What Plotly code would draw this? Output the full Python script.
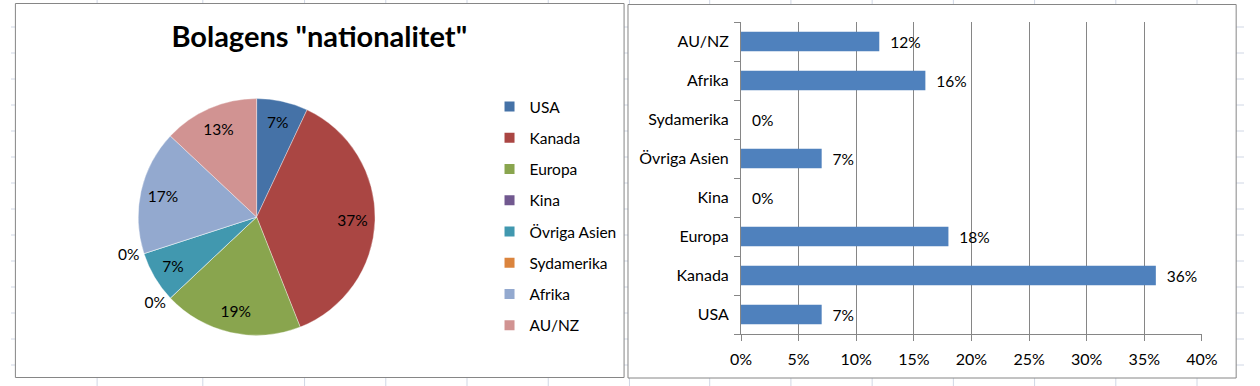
import plotly.graph_objects as go

# ---- data ----
pie_labels = ["USA", "Kanada", "Europa", "Kina", "Övriga Asien", "Sydamerika", "Afrika", "AU/NZ"]
pie_values = [7, 37, 19, 0, 7, 0, 17, 13]
pie_colors = ["#4572a7", "#aa4643", "#89a54e", "#71588f", "#4198af", "#db843d", "#93a9cf", "#d19392"]

bar_categories = ["USA", "Kanada", "Europa", "Kina", "Övriga Asien", "Sydamerika", "Afrika", "AU/NZ"]
bar_values = [0.07, 0.36, 0.18, 0.00, 0.07, 0.00, 0.16, 0.12]

title_text = 'Bolagens "nationalitet"'

W, H = 1260, 386
FONT = "Lato"
FS = 15.5
TICK_FS = 16
GRAY = "#868686"


def px(x):
    return x / W


def py(y):
    return 1 - y / H


pie_domain = dict(x=[px(130), px(372)], y=[py(338), py(96)])

fig = go.Figure()

# filled pie slices
fig.add_trace(go.Pie(
    labels=pie_labels,
    values=pie_values,
    sort=False,
    direction="clockwise",
    rotation=0,
    marker=dict(colors=pie_colors, line=dict(color="rgba(255,255,255,0.6)", width=0.6)),
    textinfo="none",
    domain=pie_domain,
    showlegend=False,
    hoverinfo="label+percent",
))

# transparent ring carrying the percentage labels (places them near the rim)
fig.add_trace(go.Pie(
    labels=pie_labels,
    values=pie_values,
    sort=False,
    direction="clockwise",
    rotation=0,
    hole=0.62,
    marker=dict(colors=["rgba(0,0,0,0)"] * len(pie_labels), line=dict(width=0)),
    texttemplate="%{percent:.0%}",
    textposition=["inside" if v > 0 else "outside" for v in pie_values],
    insidetextorientation="horizontal",
    textfont=dict(family=FONT, size=FS, color="black"),
    domain=pie_domain,
    showlegend=False,
    hoverinfo="skip",
))

# legend entries for the pie categories
for lab, col in zip(pie_labels, pie_colors):
    fig.add_trace(go.Scatter(
        x=[None], y=[None], mode="markers",
        marker=dict(symbol="square", size=10, color=col),
        name=lab, legendgroup=lab, showlegend=True,
        xaxis="x", yaxis="y",
    ))

fig.add_trace(go.Bar(
    x=bar_values,
    y=bar_categories,
    orientation="h",
    marker=dict(color="#4f81bd", line=dict(width=0)),
    texttemplate="\u00a0\u00a0%{x:.0%}",
    textposition="outside",
    textfont=dict(family=FONT, size=FS, color="black"),
    cliponaxis=False,
    showlegend=False,
))

# background spreadsheet grid + chart boxes
shapes = []
col_edges = [88, 196, 300, 383, 466, 549, 632, 714, 797, 880, 963, 1046, 1129, 1212]
for cx in col_edges:
    shapes.append(dict(type="line", xref="paper", yref="paper", x0=px(cx), x1=px(cx), y0=0, y1=1,
                       line=dict(color="#d0d7e5", width=1), layer="below"))
for k in range(1, 15):
    ry = 1 + 26 * k
    shapes.append(dict(type="line", xref="paper", yref="paper", x0=0, x1=1, y0=py(ry), y1=py(ry),
                       line=dict(color="#d0d7e5", width=1), layer="below"))
shapes.append(dict(type="rect", xref="paper", yref="paper", x0=px(4.5), x1=px(626.5), y0=py(377.5), y1=py(3.5),
                   line=dict(color=GRAY, width=1), fillcolor="white", layer="below"))
shapes.append(dict(type="rect", xref="paper", yref="paper", x0=px(630.5), x1=px(1252), y0=py(378), y1=py(4.5),
                   line=dict(color=GRAY, width=1), fillcolor="white", layer="below"))

fig.update_layout(
    width=W, height=H,
    margin=dict(l=0, r=0, t=0, b=0),
    paper_bgcolor="white",
    plot_bgcolor="rgba(0,0,0,0)",
    font=dict(family=FONT, size=FS, color="black"),
    title=dict(text=title_text, x=px(315), y=py(37), xref="paper", yref="paper",
               xanchor="center", yanchor="middle",
               font=dict(family=FONT, size=29, color="black", weight="bold")),
    shapes=shapes,
    bargap=0.5,
    showlegend=True,
    legend=dict(x=px(489), y=py(90), xanchor="left", yanchor="top",
                font=dict(family=FONT, size=FS, color="black"),
                traceorder="grouped", tracegroupgap=8.1,
                bgcolor="rgba(0,0,0,0)", borderwidth=0),
    xaxis=dict(domain=[px(746), px(1217)], range=[0, 0.4], dtick=0.05, tickformat=".0%",
               showgrid=True, gridcolor=GRAY, gridwidth=1, zeroline=False,
               showline=True, linecolor=GRAY, linewidth=1,
               ticks="outside", ticklen=6, tickcolor=GRAY, ticklabelstandoff=5,
               tickfont=dict(family=FONT, size=TICK_FS, color="black"), fixedrange=True),
    yaxis=dict(domain=[py(334), py(22)], type="category", categoryorder="array",
               categoryarray=bar_categories,
               showgrid=False, zeroline=False, showline=True, linecolor=GRAY, linewidth=1,
               ticks="outside", tickson="boundaries", ticklen=6, tickcolor=GRAY,
               ticklabelstandoff=8,
               tickfont=dict(family=FONT, size=TICK_FS, color="black"), fixedrange=True),
)

fig.write_html(
    "out.html",
    config={"displayModeBar": False},
    post_script="document.body.style.margin='0';document.body.style.overflow='hidden';",
)
